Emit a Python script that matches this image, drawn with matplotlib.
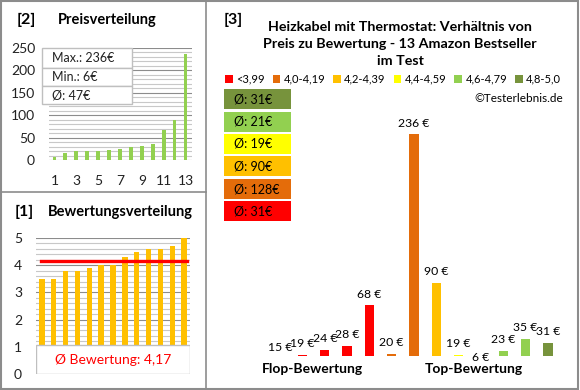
import numpy as np
import matplotlib
matplotlib.use('Agg')
import matplotlib.pyplot as plt
from matplotlib.patches import Rectangle, Patch
from matplotlib.lines import Line2D

plt.rcParams['font.family'] = ['Lato', 'DejaVu Sans']

# data
prices_sorted = [6, 15, 19, 19, 20, 23, 24, 28, 31, 35, 68, 90, 236]
ratings_sorted = [3.5, 3.5, 3.8, 3.8, 3.9, 4.0, 4.0, 4.3, 4.5, 4.6, 4.6, 4.7, 5.0]
# flop -> top (sorted by rating)
ratio_prices = [15, 19, 24, 28, 68, 20, 236, 90, 19, 6, 23, 35, 31]
ratio_groups = [0, 0, 0, 0, 0, 1, 1, 2, 3, 4, 4, 4, 5]
group_names = ['<3,99', '4,0-4,19', '4,2-4,39', '4,4-4,59', '4,6-4,79', '4,8-5,0']
group_colors = ['#FF0000', '#E46C0A', '#FFC000', '#FFFF00', '#92D050', '#77933C']
avg_rating = 4.17

W, H = 580, 390
fig = plt.figure(figsize=(W / 100, H / 100), dpi=100)

def box(l, t, r, b):
    # pixel box -> figure fraction
    return [l / W, 1 - b / H, (r - l) / W, (b - t) / H]

def fx(x):
    return x / W

def fy(y):
    return 1 - y / H

def style_grid(ax, major, minor):
    ax.set_yticks(major)
    ax.set_yticks(minor, minor=True)
    ax.grid(axis='y', which='major', color='#8c8c8c', lw=0.8)
    ax.grid(axis='y', which='minor', color='#c8c8c8', lw=0.8)
    ax.set_axisbelow(True)
    for s in ax.spines.values():
        s.set_visible(False)
    ax.tick_params(which='both', length=0, labelsize=10, colors='#222222', pad=10)

# ---- panel [2] Preisverteilung
ax2 = fig.add_axes(box(49, 48, 192, 160))
x = np.arange(1, 14)
ax2.bar(x, prices_sorted, width=0.35, color='#92D050', zorder=2)
ax2.set_xlim(0.5, 13.6)
ax2.set_ylim(0, 250)
style_grid(ax2, np.arange(0, 251, 50), np.arange(0, 251, 10))
ax2.set_xticks([1, 3, 5, 7, 9, 11, 13])
ax2.tick_params(axis='x', pad=11)

fig.text(fx(17), fy(20), '[2]', fontsize=11.5, fontweight='bold', va='center')
fig.text(fx(58), fy(20), 'Preisverteilung', fontsize=10.5, fontweight='bold', va='center')

# info box
rows = ['Max.: %d€' % max(prices_sorted), 'Min.: %d€' % min(prices_sorted),
        'Ø: %d€' % round(np.mean(prices_sorted))]
edges = [48, 68, 86, 104]
for i, t in enumerate(rows):
    fig.add_artist(Rectangle((fx(42), fy(edges[i + 1])), fx(132) - fx(42),
                             fy(edges[i]) - fy(edges[i + 1]), transform=fig.transFigure,
                             facecolor='white', edgecolor='#bfbfbf', lw=1, zorder=5))
    fig.text(fx(52), fy((edges[i] + edges[i + 1]) / 2), t, fontsize=9, va='center',
             color='#222222', zorder=6)

# ---- panel [1] Bewertungsverteilung
ax1 = fig.add_axes(box(36, 238, 190, 374))
ax1.bar(x, ratings_sorted, width=0.45, color='#FFC000', zorder=2)
ax1.set_xlim(0.5, 13.5)
ax1.set_ylim(0, 5)
style_grid(ax1, np.arange(0, 6, 1), np.arange(0, 5.01, 0.2))
ax1.set_xticks([])
ax1.axhline(avg_rating, xmin=0.03, xmax=0.98, color='#FF0000', lw=2.4, zorder=3)
ax1.add_patch(Rectangle((0.5 - 0.01, 0), 13.0, 1.07, facecolor='white',
                        edgecolor='#bfbfbf', lw=1, zorder=4))
ax1.text(7, 0.52, 'Ø Bewertung: ' + ('%.2f' % avg_rating).replace('.', ','),
         ha='center', va='center', color='#FF0000', fontsize=10, zorder=5)

fig.text(fx(15), fy(212), '[1]', fontsize=11.5, fontweight='bold', va='center')
fig.text(fx(48), fy(212), 'Bewertungsverteilung', fontsize=10.5, fontweight='bold', va='center')

# ---- panel [3] Preis zu Bewertung
ax3 = fig.add_axes(box(269, 115, 559, 356))
pos = np.arange(len(ratio_prices))
colors = [group_colors[g] for g in ratio_groups]
ax3.bar(pos, ratio_prices, width=0.42, color=colors, zorder=2)
ax3.set_xlim(-0.5, 12.5)
ax3.set_ylim(18, 255)
ax3.axis('off')
for p, v in zip(pos, ratio_prices):
    ax3.annotate('%d €' % v, (p, v), xytext=(0, 4), textcoords='offset points',
                 ha='center', va='bottom', fontsize=8.8, annotation_clip=False)

fig.text(fx(224), fy(20), '[3]', fontsize=11.5, fontweight='bold', va='center')
fig.text(fx(400), fy(44), 'Heizkabel mit Thermostat: Verhältnis von\n'
         'Preis zu Bewertung - 13 Amazon Bestseller\nim Test',
         ha='center', va='center', fontsize=10.3, fontweight='bold', linespacing=1.5)

handles = [Patch(facecolor=c, edgecolor='none') for c in group_colors]
fig.legend(handles, group_names, loc='center', bbox_to_anchor=(fx(393), fy(79)),
           ncol=6, frameon=False, fontsize=8, handlelength=0.7, handleheight=0.7,
           handletextpad=0.3, columnspacing=0.7, borderpad=0)

fig.text(fx(563), fy(98), '©Testerlebnis.de', ha='right', va='center', fontsize=8.5)

# average boxes, top group first
box_tops = [89, 112, 134, 156, 179, 201]
for i, g in enumerate(range(5, -1, -1)):
    vals = [v for v, gg in zip(ratio_prices, ratio_groups) if gg == g]
    t = box_tops[i]
    fig.add_artist(Rectangle((fx(224), fy(t + 20)), fx(291) - fx(224), 20 / H,
                             transform=fig.transFigure, facecolor=group_colors[g],
                             edgecolor='none'))
    fig.text(fx(234), fy(t + 10), 'Ø: %d€' % round(np.mean(vals)), fontsize=9,
             va='center')

fig.text(fx(312), fy(369), 'Flop-Bewertung', ha='center', va='center',
         fontsize=10, fontweight='bold')
fig.text(fx(474), fy(369), 'Top-Bewertung', ha='center', va='center',
         fontsize=10, fontweight='bold')

# panel frames
gray = '#8c8c8c'
fig.add_artist(Rectangle((0.002, 0.003), 0.995, 0.995, transform=fig.transFigure,
                         fill=False, edgecolor=gray, lw=1.5))
fig.add_artist(Line2D([fx(206), fx(206)], [0, 1], transform=fig.transFigure, color=gray, lw=1.2))
fig.add_artist(Line2D([0, fx(206)], [fy(192), fy(192)], transform=fig.transFigure, color=gray, lw=1.2))

fig.savefig('out.png', dpi=100)
